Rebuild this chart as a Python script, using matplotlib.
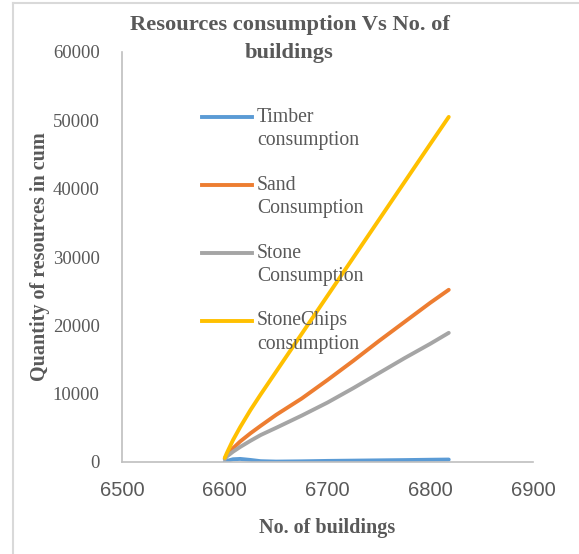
import numpy as np
import matplotlib
matplotlib.use("Agg")
import matplotlib.pyplot as plt
from matplotlib.lines import Line2D

# number of buildings
buildings = [6600, 6602, 6608, 6615, 6625, 6635, 6650, 6675, 6700, 6725, 6750, 6775, 6800, 6818]

# quantities in cum
timber = [0, 150, 400, 450, 300, 120, 60, 100, 160, 200, 240, 280, 330, 360]
sand = [500, 1000, 2000, 3000, 4200, 5300, 6900, 9300, 12000, 14800, 17700, 20500, 23300, 25200]
stone = [400, 800, 1500, 2200, 3100, 3950, 5000, 6800, 8700, 10800, 13000, 15200, 17300, 18900]
stone_chips = [600, 1300, 3200, 5100, 7600, 9900, 13230, 18780, 24330, 29880, 35430, 40980, 46530, 50500]

series_names = ["Timber\nconsumption", "Sand\nConsumption", "Stone\nConsumption", "StoneChips\nconsumption"]
series_colors = ["#5B9BD5", "#ED7D31", "#A5A5A5", "#FFC000"]

x_ticks = [6500, 6600, 6700, 6800, 6900]
y_ticks = [0, 10000, 20000, 30000, 40000, 50000, 60000]

W, H = 579, 554
serif = "Liberation Serif"
grey_text = "#595959"

fig = plt.figure(figsize=(W / 100, H / 100), dpi=100)
ax = fig.add_axes([122 / W, 1 - 462 / H, (533 - 122) / W, (462 - 52) / H])

for vals, col in zip([timber, sand, stone, stone_chips], series_colors):
    ax.plot(buildings, vals, color=col, lw=2.8, solid_capstyle="round", solid_joinstyle="round")

ax.set_xlim(6500, 6900)
ax.set_ylim(0, 60000)
ax.set_xticks(x_ticks)
ax.set_yticks(y_ticks)
ax.set_xticklabels([str(t) for t in x_ticks], fontfamily="Liberation Sans", fontsize=14.5, color=grey_text)
ax.set_yticklabels([str(t) for t in y_ticks], fontfamily=serif, fontsize=13.5, color=grey_text)
ax.tick_params(axis="x", length=0, pad=14)
ax.tick_params(axis="y", length=0, pad=16)

for side in ["top", "right"]:
    ax.spines[side].set_visible(False)
for side in ["left", "bottom"]:
    ax.spines[side].set_color("#BFBFBF")
    ax.spines[side].set_linewidth(1.2)

ax.set_xlabel("No. of buildings", fontfamily=serif, fontsize=14.5, fontweight="bold", color=grey_text, labelpad=13)
ax.set_ylabel("Quantity of resources in cum", fontfamily=serif, fontsize=14.5, fontweight="bold", color=grey_text, labelpad=2)

fig.text(0.5, 1 - 25 / H, "Resources consumption Vs No. of", ha="center", va="center",
         fontfamily=serif, fontsize=16.2, fontweight="bold", color=grey_text)
fig.text(0.5, 1 - 53 / H, "buildings", ha="center", va="center",
         fontfamily=serif, fontsize=16.2, fontweight="bold", color=grey_text)

# legend, handle level with the first line of each label
for i, (name, col) in enumerate(zip(series_names, series_colors)):
    y = 117 + i * 68
    fig.add_artist(Line2D([202 / W, 252 / W], [1 - y / H, 1 - y / H], color=col, lw=2.8,
                          transform=fig.transFigure))
    first, second = name.split("\n")
    fig.text(257 / W, 1 - y / H, first, ha="left", va="center",
             fontfamily=serif, fontsize=14.2, color=grey_text)
    fig.text(257 / W, 1 - (y + 23) / H, second, ha="left", va="center",
             fontfamily=serif, fontsize=14.2, color=grey_text)

# chart area border
fig.add_artist(Line2D([13 / W, 13 / W], [0, 1 - 3 / H], color="#D9D9D9", lw=1.5, transform=fig.transFigure))
fig.add_artist(Line2D([13 / W, 1], [1 - 3 / H, 1 - 3 / H], color="#D9D9D9", lw=1.5, transform=fig.transFigure))

fig.savefig("out.png", dpi=100)
